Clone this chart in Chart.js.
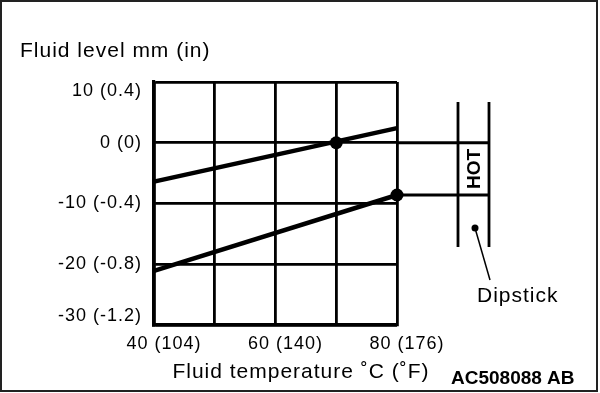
<!DOCTYPE html>
<html>
<head>
<meta charset="utf-8">
<script src="https://cdn.jsdelivr.net/npm/chart.js@4.4.1/dist/chart.umd.min.js"></script>
<style>
  html, body { margin: 0; padding: 0; background: #fff; }
  canvas { display: block; }
</style>
</head>
<body>
<canvas id="levelChart" width="600" height="393"></canvas>
<script>
// Fluid temperature gridlines (deg C) and their labels
const tempTicks = [40, 50, 60, 70, 80];
const tempTickLabels = ['40 (104)', '', '60 (140)', '', '80 (176)'];

// Fluid level gridlines (mm) and their labels
const levelTicks = [10, 0, -10, -20, -30];
const levelTickLabels = ['10 (0.4)', '0 (0)', '-10 (-0.4)', '-20 (-0.8)', '-30 (-1.2)'];

// Upper line
const upperTemps = [40, 80];
const upperLevels = [-6.4, 2.4];

// Lower line
const lowerTemps = [40, 80];
const lowerLevels = [-21.1, -8.6];

// Marked points (their levels give the HOT range on the dipstick)
const markTemps = [70, 80];
const markLevels = [0, -8.6];

const FONT = '"Liberation Sans", Arial, Helvetica, sans-serif';
Chart.defaults.font.family = FONT;
Chart.defaults.color = '#000';

function toPoints(xs, ys) {
    return xs.map((x, i) => ({ x, y: ys[i] }));
}

// Extra drawing: titles, dipstick, reference lines, border
const diagramPlugin = {
    id: 'diagram',
    beforeDraw(chart) {
        const ctx = chart.ctx;
        ctx.save();
        ctx.fillStyle = '#fff';
        ctx.fillRect(0, 0, chart.width, chart.height);
        ctx.restore();
        // wider spacing like the original lettering
        ctx.letterSpacing = '1px';
    },
    afterDraw(chart) {
        const ctx = chart.ctx;
        const area = chart.chartArea;
        const yScale = chart.scales.y;
        const stickLeft = 458, stickRight = 489;

        ctx.save();
        ctx.fillStyle = '#000';
        ctx.strokeStyle = '#000';
        ctx.letterSpacing = '1px';

        // axis titles
        ctx.font = '21px ' + FONT;
        ctx.textBaseline = 'alphabetic';
        ctx.textAlign = 'left';
        ctx.fillText('Fluid level mm (in)', 20, 57);
        ctx.textAlign = 'center';
        ctx.fillText('Fluid temperature ˚C (˚F)', 301, 378);

        // reference lines from the marked points to the dipstick
        ctx.lineWidth = 2.8;
        markLevels.forEach(v => {
            const y = yScale.getPixelForValue(v);
            ctx.beginPath();
            ctx.moveTo(area.right, y);
            ctx.lineTo(stickRight, y);
            ctx.stroke();
        });

        // dipstick
        ctx.beginPath();
        ctx.moveTo(stickLeft, 102); ctx.lineTo(stickLeft, 247);
        ctx.moveTo(stickRight, 102); ctx.lineTo(stickRight, 247);
        ctx.stroke();

        // HOT label
        const yTop = yScale.getPixelForValue(markLevels[0]);
        const yBot = yScale.getPixelForValue(markLevels[1]);
        ctx.save();
        ctx.translate(474, (yTop + yBot) / 2);
        ctx.rotate(-Math.PI / 2);
        ctx.font = 'bold 19px ' + FONT;
        ctx.textAlign = 'center';
        ctx.textBaseline = 'middle';
        ctx.letterSpacing = '0px';
        ctx.fillText('HOT', 0, 1);
        ctx.restore();

        // leader to "Dipstick"
        ctx.beginPath();
        ctx.arc(475, 228, 3.5, 0, Math.PI * 2);
        ctx.fill();
        ctx.lineWidth = 1.5;
        ctx.beginPath();
        ctx.moveTo(475, 228);
        ctx.lineTo(490, 280);
        ctx.stroke();

        ctx.font = '21px ' + FONT;
        ctx.textAlign = 'left';
        ctx.fillText('Dipstick', 477, 302);

        // figure code
        ctx.font = 'bold 19px ' + FONT;
        ctx.letterSpacing = '0px';
        ctx.fillText('AC508088 AB', 451, 384);

        // frame
        ctx.strokeStyle = '#222';
        ctx.lineWidth = 2;
        ctx.strokeRect(1, 1, 596, 390);
        ctx.restore();
    }
};

new Chart(document.getElementById('levelChart'), {
    type: 'line',
    data: {
        datasets: [
            {
                data: toPoints(upperTemps, upperLevels),
                borderColor: '#000',
                borderWidth: 4.5,
                pointRadius: 0
            },
            {
                data: toPoints(lowerTemps, lowerLevels),
                borderColor: '#000',
                borderWidth: 4.5,
                pointRadius: 0
            },
            {
                data: toPoints(markTemps, markLevels),
                showLine: false,
                pointRadius: 6.5,
                pointBackgroundColor: '#000',
                pointBorderWidth: 0
            }
        ]
    },
    options: {
        responsive: false,
        animation: false,
        clip: false,
        layout: { padding: { left: 0, top: 82, right: 203, bottom: 0 } },
        plugins: {
            legend: { display: false },
            tooltip: { enabled: false }
        },
        scales: {
            x: {
                type: 'linear',
                min: 40,
                max: 80,
                afterFit: scale => { scale.height = 68; },
                afterBuildTicks: scale => { scale.ticks = tempTicks.map(v => ({ value: v })); },
                grid: { color: '#000', lineWidth: 2.8, drawTicks: false },
                border: { color: '#000', width: 3.2 },
                ticks: {
                    font: { size: 18, lineHeight: 1 },
                    padding: 10,
                    labelOffset: 10,
                    maxRotation: 0,
                    autoSkip: false,
                    callback: v => {
                        const i = tempTicks.indexOf(v);
                        return i >= 0 ? tempTickLabels[i] : '';
                    }
                }
            },
            y: {
                type: 'linear',
                min: -30,
                max: 10,
                afterFit: scale => { scale.width = 154; },
                afterBuildTicks: scale => { scale.ticks = levelTicks.map(v => ({ value: v })); },
                grid: { color: '#000', lineWidth: 2.8, drawTicks: false },
                border: { color: '#000', width: 3.2 },
                ticks: {
                    font: { size: 18, lineHeight: 1 },
                    padding: 12,
                    autoSkip: false,
                    callback: v => {
                        const i = levelTicks.indexOf(v);
                        if (i < 0) return '';
                        const label = levelTickLabels[i];
                        // end labels sit inside the frame in the original
                        if (v === 10) return ['', label];
                        if (v === -30) return [label, ''];
                        return label;
                    }
                }
            }
        }
    },
    plugins: [diagramPlugin]
});
</script>
</body>
</html>
